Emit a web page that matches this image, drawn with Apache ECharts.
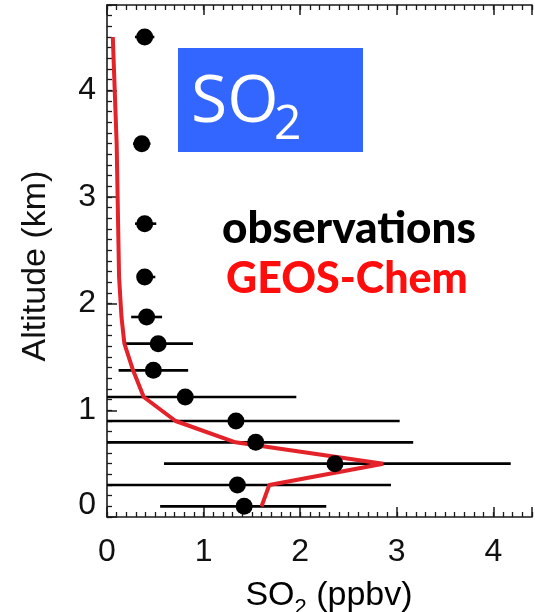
<!DOCTYPE html>
<html>
<head>
<meta charset="utf-8">
<title>SO2 vertical profile</title>
<script src="https://cdn.jsdelivr.net/npm/echarts@6/dist/echarts.min.js"></script>
<style>
  html, body { margin: 0; padding: 0; background: #ffffff; }
  #chart { width: 535px; height: 612px; }
</style>
</head>
<body>
<div id="chart"></div>
<script>
// Altitude bins (km) of the aircraft profile
const altitudes = [0.1, 0.3, 0.5, 0.7, 0.9, 1.125, 1.375, 1.625, 1.875, 2.25, 2.75, 3.5, 4.5];
// Observed SO2 (ppbv): bin mean and the spread drawn as horizontal bars
const obsMean = [1.42, 1.35, 2.36, 1.54, 1.335, 0.81, 0.48, 0.53, 0.41, 0.39, 0.39, 0.36, 0.39];
const obsLow  = [0.55, 0.0, 0.59, 0.0, 0.0, 0.0, 0.12, 0.18, 0.25, 0.32, 0.29, 0.27, 0.29];
const obsHigh = [2.27, 2.94, 4.18, 3.17, 3.03, 1.96, 0.84, 0.89, 0.57, 0.50, 0.51, 0.45, 0.49];
// GEOS-Chem simulated SO2 (ppbv) at the same altitudes
const modelSO2 = [1.60, 1.68, 2.86, 1.33, 0.71, 0.38, 0.27, 0.18, 0.15, 0.125, 0.115, 0.10, 0.06];
// Axis tick labels
const xTickLabels = ['0', '1', '2', '3', '4'];
const yTickLabels = ['0', '1', '2', '3', '4'];

const AXIS_FONT = 'Liberation Sans, Arial, Helvetica, sans-serif';
const axisColor = '#1a1a1a';

const chart = echarts.init(document.getElementById('chart'), null, { renderer: 'canvas' });

function majorAxis(pos, withLabels, labels, maxV) {
  return {
    type: 'value', position: pos, gridIndex: 0,
    min: 0, max: maxV, interval: 1,
    axisLine: { show: true, onZero: false, lineStyle: { color: axisColor, width: 1.6 } },
    axisTick: { show: true, inside: true, length: 10, lineStyle: { color: axisColor, width: 1.5 } },
    axisLabel: withLabels ? {
      show: true,
      fontFamily: AXIS_FONT, fontSize: 32, color: '#111',
      margin: pos === 'left' ? 11 : 19,
      formatter: function (v) {
        const i = labels.indexOf(String(v));
        if (i < 0) return '';
        return (pos === 'left' && v === 0) ? '{lift|0}' : labels[i];
      },
      rich: { lift: { fontFamily: AXIS_FONT, fontSize: 32, color: '#111', padding: [0, 0, 23, 0] } }
    } : { show: false },
    splitLine: { show: false }
  };
}
function minorAxis(pos, maxV) {
  return {
    type: 'value', position: pos, gridIndex: 0,
    min: 0, max: maxV, interval: 0.1,
    axisLine: { show: false, onZero: false },
    axisTick: { show: true, inside: true, length: 5, lineStyle: { color: axisColor, width: 1.3 } },
    axisLabel: { show: false },
    splitLine: { show: false }
  };
}

const X_MAX = 4.4, Y_MAX = 4.8;

const option = {
  animation: false,
  backgroundColor: '#ffffff',
  grid: { left: 107, top: 5, width: 431, height: 512, containLabel: false },
  xAxis: [
    majorAxis('bottom', true, xTickLabels, X_MAX),
    minorAxis('bottom', X_MAX),
    majorAxis('top', false, xTickLabels, X_MAX),
    minorAxis('top', X_MAX)
  ],
  yAxis: [
    majorAxis('left', true, yTickLabels, Y_MAX),
    minorAxis('left', Y_MAX)
  ],
  series: [
    {
      // horizontal spread bars of the observations
      type: 'custom',
      name: 'spread',
      xAxisIndex: 0, yAxisIndex: 0,
      clip: true,
      data: altitudes.map((a, i) => [obsLow[i], obsHigh[i], a]),
      renderItem: function (params, api) {
        const p0 = api.coord([api.value(0), api.value(2)]);
        const p1 = api.coord([api.value(1), api.value(2)]);
        return {
          type: 'line',
          shape: { x1: p0[0], y1: p0[1], x2: p1[0], y2: p1[1] },
          style: { stroke: '#000000', lineWidth: 2.6 }
        };
      },
      z: 2
    },
    {
      type: 'line',
      name: 'GEOS-Chem',
      xAxisIndex: 0, yAxisIndex: 0,
      data: altitudes.map((a, i) => [modelSO2[i], a]),
      showSymbol: false,
      symbol: 'none',
      lineStyle: { color: '#e4222a', width: 4 },
      z: 3
    },
    {
      type: 'scatter',
      name: 'observations',
      xAxisIndex: 0, yAxisIndex: 0,
      data: altitudes.map((a, i) => [obsMean[i], a]),
      symbol: 'circle',
      symbolSize: 17,
      itemStyle: { color: '#000000', opacity: 1 },
      z: 4
    }
  ],
  graphic: [
    { type: 'rect', shape: { x: 178, y: 48, width: 185, height: 104 }, style: { fill: '#3366ff' }, z: 10 },
    { type: 'text', x: 191, y: 103, style: { text: 'SO', fill: '#ffffff', font: '66px "Open Sans", "Noto Sans", sans-serif', textAlign: 'left', textVerticalAlign: 'middle' }, z: 11 },
    { type: 'text', x: 274, y: 125, style: { text: '2', fill: '#ffffff', font: '48px "Open Sans", "Noto Sans", sans-serif', textAlign: 'left', textVerticalAlign: 'middle' }, z: 11 },
    { type: 'text', x: 222, y: 229, style: { text: 'observations', fill: '#000000', font: '900 44px Lato, "Open Sans", sans-serif', textAlign: 'left', textVerticalAlign: 'middle' }, z: 11 },
    { type: 'text', x: 226, y: 279, style: { text: 'GEOS-Chem', fill: '#ff0d0d', font: '900 43px Lato, "Open Sans", sans-serif', textAlign: 'left', textVerticalAlign: 'middle' }, z: 11 },
    {
      type: 'text', x: 36, y: 266, rotation: Math.PI / 2,
      style: { text: 'Altitude (km)', fill: '#111', font: '34px "Liberation Sans", Arial, sans-serif', textAlign: 'center', textVerticalAlign: 'middle' }, z: 11
    },
    {
      type: 'text', x: 329, y: 599,
      style: {
        text: '{m|SO}{s|2}{m| (ppbv)}',
        textAlign: 'center', textVerticalAlign: 'middle',
        rich: {
          m: { fontFamily: 'Liberation Sans, Arial, sans-serif', fontSize: 34, color: '#111', lineHeight: 40, verticalAlign: 'top' },
          s: { fontFamily: 'Liberation Sans, Arial, sans-serif', fontSize: 22, color: '#111', lineHeight: 22, verticalAlign: 'bottom' }
        }
      }, z: 11
    }
  ]
};

chart.setOption(option);
</script>
</body>
</html>
